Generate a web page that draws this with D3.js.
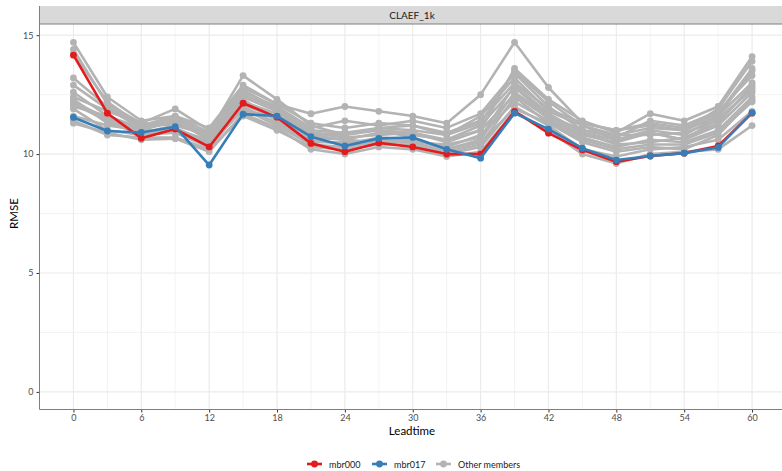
<!DOCTYPE html>
<html>
<head>
<meta charset="utf-8">
<script src="https://cdn.jsdelivr.net/npm/d3@7"></script>
<style>
  body { margin: 0; background: #fff; }
  svg { font-family: Lato, "DejaVu Sans", sans-serif; }
</style>
</head>
<body>
<svg width="782" height="471"></svg>
<script>
// lead times (hours)
var leadtimes = d3.range(0, 61, 3)
var xTicks = [0, 6, 12, 18, 24, 30, 36, 42, 48, 54, 60]
var yTicks = [0, 5, 10, 15]

var mbr000 = [14.16, 11.72, 10.67, 11.05, 10.3, 12.14, 11.55, 10.45, 10.1, 10.47, 10.3, 10.0, 10.0, 11.8, 10.88, 10.17, 9.68, 9.92, 10.04, 10.34, 11.72]
var mbr017 = [11.54, 10.97, 10.91, 11.15, 9.54, 11.68, 11.6, 10.73, 10.34, 10.66, 10.7, 10.2, 9.83, 11.72, 11.05, 10.25, 9.75, 9.92, 10.04, 10.28, 11.74]

var others = [
    [14.7, 12.4, 11.4, 11.6, 10.9, 13.3, 12.3, 11.2, 10.8, 11.0, 10.9, 10.6, 11.0, 13.6, 12.3, 11.4, 10.9, 11.7, 11.4, 12.0, 14.1],
    [14.4, 12.1, 11.3, 11.9, 11.0, 12.8, 12.1, 11.7, 12.0, 11.8, 11.6, 11.3, 12.5, 14.7, 12.8, 11.3, 11.0, 11.2, 11.0, 11.6, 13.5],
    [14.2, 12.2, 11.2, 11.6, 11.1, 12.9, 12.1, 11.3, 11.1, 11.3, 11.2, 10.8, 11.3, 13.5, 12.2, 11.2, 10.8, 11.1, 11.0, 11.9, 13.9],
    [13.2, 12.0, 11.2, 11.5, 10.8, 12.6, 12.0, 11.1, 11.4, 11.2, 11.4, 11.1, 11.7, 13.4, 12.0, 11.0, 10.7, 11.4, 11.2, 11.8, 13.3],
    [12.9, 11.9, 11.1, 11.3, 10.7, 12.5, 11.9, 10.9, 10.8, 11.1, 11.0, 10.8, 11.6, 13.2, 11.8, 11.2, 10.6, 11.0, 10.8, 11.6, 13.0],
    [12.6, 11.6, 11.0, 11.4, 10.6, 12.4, 11.8, 10.8, 10.6, 10.9, 10.8, 10.6, 11.2, 12.8, 11.6, 11.0, 10.8, 10.8, 10.9, 11.4, 12.8],
    [12.4, 11.8, 11.3, 11.2, 10.8, 12.2, 11.7, 10.9, 10.7, 10.8, 10.9, 10.5, 11.0, 12.5, 11.5, 10.8, 10.5, 10.9, 10.6, 11.2, 12.6],
    [12.3, 11.3, 10.9, 11.2, 10.9, 12.7, 11.9, 11.0, 10.9, 11.1, 11.2, 10.9, 11.4, 13.0, 11.9, 11.3, 11.0, 11.3, 11.1, 11.7, 13.6],
    [12.2, 11.5, 10.9, 11.1, 10.5, 12.3, 11.4, 10.6, 10.4, 10.7, 10.6, 10.3, 10.8, 12.2, 11.4, 10.7, 10.3, 10.6, 10.5, 11.0, 12.4],
    [12.1, 11.4, 10.8, 11.0, 10.4, 12.0, 11.3, 10.5, 10.5, 10.6, 10.5, 10.4, 10.7, 12.9, 11.7, 10.9, 10.4, 10.5, 10.7, 11.3, 12.9],
    [12.0, 11.6, 11.1, 11.5, 10.7, 12.1, 11.5, 10.7, 10.6, 10.5, 10.6, 10.2, 10.6, 12.6, 11.6, 10.9, 10.6, 10.9, 10.6, 11.5, 12.7],
    [11.9, 11.0, 10.8, 10.9, 10.3, 11.9, 11.2, 10.4, 10.3, 10.5, 10.5, 10.1, 10.4, 12.4, 11.3, 10.5, 10.1, 10.3, 10.2, 10.8, 12.3],
    [11.6, 11.2, 11.0, 11.0, 10.6, 11.8, 11.6, 10.8, 10.9, 11.0, 10.7, 10.2, 10.5, 11.9, 11.3, 10.6, 10.2, 10.4, 10.4, 10.9, 12.2],
    [11.4, 10.8, 10.7, 10.7, 10.2, 11.6, 11.0, 10.3, 10.2, 10.4, 10.4, 10.0, 10.3, 12.0, 11.2, 10.2, 9.9, 10.2, 10.3, 10.6, 11.8],
    [11.3, 10.9, 10.6, 10.65, 10.1, 11.7, 11.1, 10.2, 10.0, 10.3, 10.2, 9.9, 10.1, 11.8, 11.0, 10.0, 9.6, 10.0, 10.1, 10.2, 11.2]
]

var legendItems = ["mbr000", "mbr017", "Other members"]
var colors = { "mbr000": "#e41a1c", "mbr017": "#377eb8", "Other members": "#b3b3b3" }

var svg = d3.select("svg")

var panel = { left: 39.5, right: 786, top: 24, bottom: 409.5 }

var x = d3.scaleLinear().domain([-3, 63]).range([panel.left, panel.right])
var y = d3.scaleLinear().domain([-0.74, 15.47]).range([panel.bottom, panel.top])

// grid
var grid = svg.append("g")
grid.selectAll(".minx").data(d3.range(3, 61, 6)).enter().append("line")
    .attr("x1", d => x(d)).attr("x2", d => x(d))
    .attr("y1", panel.top).attr("y2", panel.bottom)
    .attr("stroke", "#ebebeb").attr("stroke-width", 0.6)
grid.selectAll(".miny").data([2.5, 7.5, 12.5]).enter().append("line")
    .attr("x1", panel.left).attr("x2", panel.right)
    .attr("y1", d => y(d)).attr("y2", d => y(d))
    .attr("stroke", "#ebebeb").attr("stroke-width", 0.6)
grid.selectAll(".majx").data(xTicks).enter().append("line")
    .attr("x1", d => x(d)).attr("x2", d => x(d))
    .attr("y1", panel.top).attr("y2", panel.bottom)
    .attr("stroke", "#ebebeb").attr("stroke-width", 1.2)
grid.selectAll(".majy").data(yTicks).enter().append("line")
    .attr("x1", panel.left).attr("x2", panel.right)
    .attr("y1", d => y(d)).attr("y2", d => y(d))
    .attr("stroke", "#ebebeb").attr("stroke-width", 1.2)

// strip
svg.append("rect")
    .attr("x", panel.left).attr("y", 6)
    .attr("width", panel.right - panel.left).attr("height", panel.top - 6)
    .attr("fill", "#d9d9d9")
svg.append("line")
    .attr("x1", panel.left).attr("x2", panel.right)
    .attr("y1", panel.top).attr("y2", panel.top)
    .attr("stroke", "#7f7f7f").attr("stroke-width", 1)
svg.append("text")
    .attr("x", 412).attr("y", 19)
    .attr("text-anchor", "middle")
    .attr("font-size", 10).attr("fill", "#1a1a1a")
    .text("CLAEF_1k")

var line = d3.line()
    .x((d, i) => x(leadtimes[i]))
    .y(d => y(d))

function drawSeries(values, color) {
    var g = svg.append("g")
    g.append("path")
        .attr("d", line(values))
        .attr("fill", "none")
        .attr("stroke", color)
        .attr("stroke-width", 2.6)
        .attr("stroke-linejoin", "round")
    g.selectAll("circle").data(values).enter().append("circle")
        .attr("cx", (d, i) => x(leadtimes[i]))
        .attr("cy", d => y(d))
        .attr("r", 3.4)
        .attr("fill", color)
}

others.forEach(function (s) { drawSeries(s, colors["Other members"]) })
drawSeries(mbr000, colors["mbr000"])
drawSeries(mbr017, colors["mbr017"])

// axes
var yAxis = svg.append("g")
    .attr("transform", "translate(" + panel.left + ",0)")
    .call(d3.axisLeft(y).tickValues(yTicks).tickSize(3).tickPadding(3))
var xAxis = svg.append("g")
    .attr("transform", "translate(0," + panel.bottom + ")")
    .call(d3.axisBottom(x).tickValues(xTicks).tickSize(3).tickPadding(2))
yAxis.select(".domain").remove()
xAxis.select(".domain").remove()
svg.selectAll(".tick line").attr("stroke", "#333")
svg.selectAll(".tick text")
    .attr("fill", "#4d4d4d")
    .attr("font-size", 9)
    .attr("font-family", "Lato, 'DejaVu Sans', sans-serif")

svg.append("line")
    .attr("x1", panel.left).attr("x2", panel.left)
    .attr("y1", 6).attr("y2", panel.bottom)
    .attr("stroke", "#7f7f7f").attr("stroke-width", 1)
svg.append("line")
    .attr("x1", panel.left).attr("x2", panel.right)
    .attr("y1", panel.bottom).attr("y2", panel.bottom)
    .attr("stroke", "#7f7f7f").attr("stroke-width", 1)

// titles
svg.append("text")
    .attr("x", 412).attr("y", 435)
    .attr("text-anchor", "middle")
    .attr("font-size", 11.5).attr("fill", "#000")
    .text("Leadtime")
svg.append("text")
    .attr("transform", "translate(18," + y(7.5) + ") rotate(-90)")
    .attr("text-anchor", "middle")
    .attr("font-size", 11.5).attr("fill", "#000")
    .text("RMSE")

// legend
var legendX = [307, 372, 436]
var legend = svg.append("g")
legendItems.forEach(function (name, i) {
    var g = legend.append("g").attr("transform", "translate(" + legendX[i] + ",464)")
    g.append("line").attr("x1", 0).attr("x2", 15).attr("y1", 0).attr("y2", 0)
        .attr("stroke", colors[name]).attr("stroke-width", 2.6)
    g.append("circle").attr("cx", 7.5).attr("cy", 0).attr("r", 3.4).attr("fill", colors[name])
    g.append("text").attr("x", 22).attr("y", 3.5)
        .attr("font-size", 9).attr("fill", "#1a1a1a")
        .text(name)
})
</script>
</body>
</html>
